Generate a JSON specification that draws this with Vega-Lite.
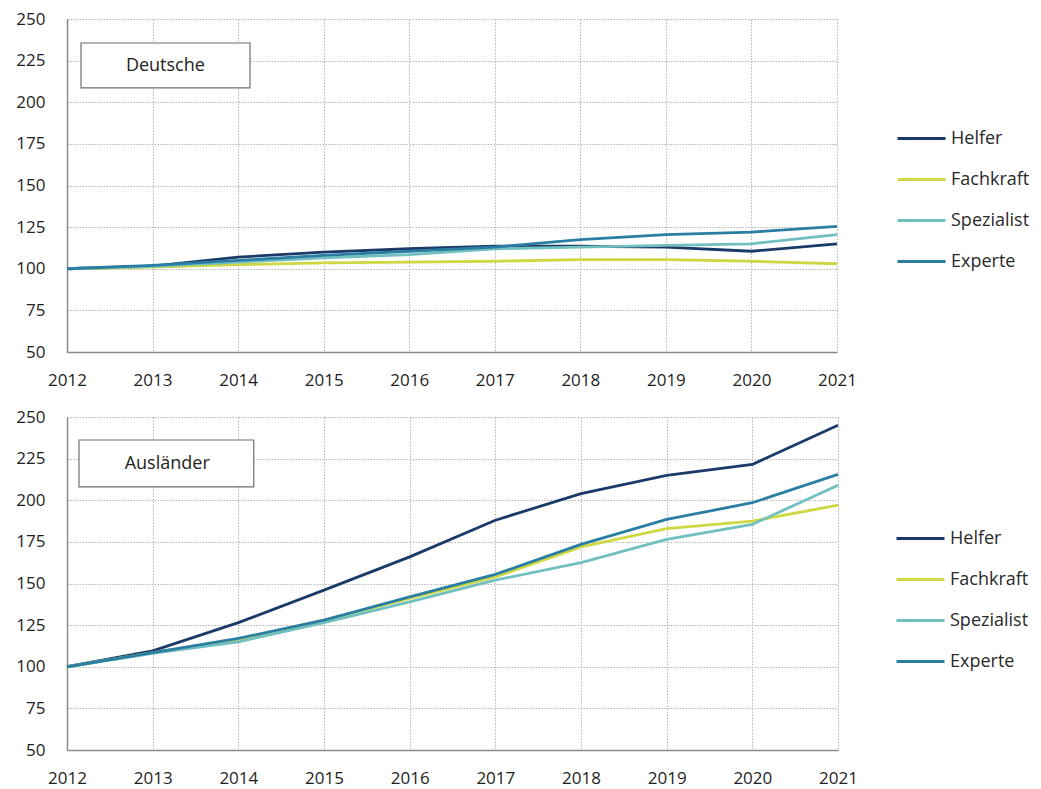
{
  "$schema": "https://vega.github.io/schema/vega-lite/v6.json",
  "background": "white",
  "padding": {"left": 15, "top": 10, "right": 5, "bottom": 5},
  "spacing": 20,
  "config": {
    "font": "Open Sans",
    "view": {"stroke": null},
    "axis": {
      "labelFont": "Open Sans",
      "labelFontSize": 17,
      "labelColor": "#1e1e1e",
      "labelFlush": false,
      "labelOverlap": false,
      "ticks": false,
      "title": null,
      "domainColor": "#8a8a8a",
      "domainWidth": 1.5,
      "gridColor": "#b5b5b5",
      "gridDash": [1.5, 1.5],
      "gridWidth": 1
    },
    "legend": {
      "labelFont": "Open Sans",
      "labelFontSize": 18,
      "labelColor": "#2a2a2a"
    }
  },
  "data": {
    "values": [
      {"group": "Deutsche", "type": "Helfer", "year": 2012, "value": 100},
      {"group": "Deutsche", "type": "Helfer", "year": 2013, "value": 101.5},
      {"group": "Deutsche", "type": "Helfer", "year": 2014, "value": 107},
      {"group": "Deutsche", "type": "Helfer", "year": 2015, "value": 110},
      {"group": "Deutsche", "type": "Helfer", "year": 2016, "value": 112},
      {"group": "Deutsche", "type": "Helfer", "year": 2017, "value": 113.5},
      {"group": "Deutsche", "type": "Helfer", "year": 2018, "value": 113.5},
      {"group": "Deutsche", "type": "Helfer", "year": 2019, "value": 113},
      {"group": "Deutsche", "type": "Helfer", "year": 2020, "value": 110.5},
      {"group": "Deutsche", "type": "Helfer", "year": 2021, "value": 115},
      {"group": "Deutsche", "type": "Fachkraft", "year": 2012, "value": 100},
      {"group": "Deutsche", "type": "Fachkraft", "year": 2013, "value": 101},
      {"group": "Deutsche", "type": "Fachkraft", "year": 2014, "value": 102.5},
      {"group": "Deutsche", "type": "Fachkraft", "year": 2015, "value": 103.5},
      {"group": "Deutsche", "type": "Fachkraft", "year": 2016, "value": 104},
      {"group": "Deutsche", "type": "Fachkraft", "year": 2017, "value": 104.5},
      {"group": "Deutsche", "type": "Fachkraft", "year": 2018, "value": 105.5},
      {"group": "Deutsche", "type": "Fachkraft", "year": 2019, "value": 105.5},
      {"group": "Deutsche", "type": "Fachkraft", "year": 2020, "value": 104.5},
      {"group": "Deutsche", "type": "Fachkraft", "year": 2021, "value": 103},
      {"group": "Deutsche", "type": "Spezialist", "year": 2012, "value": 100},
      {"group": "Deutsche", "type": "Spezialist", "year": 2013, "value": 101.5},
      {"group": "Deutsche", "type": "Spezialist", "year": 2014, "value": 104},
      {"group": "Deutsche", "type": "Spezialist", "year": 2015, "value": 106.5},
      {"group": "Deutsche", "type": "Spezialist", "year": 2016, "value": 108.5},
      {"group": "Deutsche", "type": "Spezialist", "year": 2017, "value": 112},
      {"group": "Deutsche", "type": "Spezialist", "year": 2018, "value": 113},
      {"group": "Deutsche", "type": "Spezialist", "year": 2019, "value": 114},
      {"group": "Deutsche", "type": "Spezialist", "year": 2020, "value": 115},
      {"group": "Deutsche", "type": "Spezialist", "year": 2021, "value": 120.5},
      {"group": "Deutsche", "type": "Experte", "year": 2012, "value": 100},
      {"group": "Deutsche", "type": "Experte", "year": 2013, "value": 102},
      {"group": "Deutsche", "type": "Experte", "year": 2014, "value": 105},
      {"group": "Deutsche", "type": "Experte", "year": 2015, "value": 108},
      {"group": "Deutsche", "type": "Experte", "year": 2016, "value": 110.5},
      {"group": "Deutsche", "type": "Experte", "year": 2017, "value": 113},
      {"group": "Deutsche", "type": "Experte", "year": 2018, "value": 117.5},
      {"group": "Deutsche", "type": "Experte", "year": 2019, "value": 120.5},
      {"group": "Deutsche", "type": "Experte", "year": 2020, "value": 122},
      {"group": "Deutsche", "type": "Experte", "year": 2021, "value": 125.5},
      {"group": "Ausländer", "type": "Helfer", "year": 2012, "value": 100},
      {"group": "Ausländer", "type": "Helfer", "year": 2013, "value": 109.5},
      {"group": "Ausländer", "type": "Helfer", "year": 2014, "value": 126.5},
      {"group": "Ausländer", "type": "Helfer", "year": 2015, "value": 146},
      {"group": "Ausländer", "type": "Helfer", "year": 2016, "value": 166},
      {"group": "Ausländer", "type": "Helfer", "year": 2017, "value": 188},
      {"group": "Ausländer", "type": "Helfer", "year": 2018, "value": 204},
      {"group": "Ausländer", "type": "Helfer", "year": 2019, "value": 215},
      {"group": "Ausländer", "type": "Helfer", "year": 2020, "value": 221.5},
      {"group": "Ausländer", "type": "Helfer", "year": 2021, "value": 245},
      {"group": "Ausländer", "type": "Fachkraft", "year": 2012, "value": 100},
      {"group": "Ausländer", "type": "Fachkraft", "year": 2013, "value": 108.5},
      {"group": "Ausländer", "type": "Fachkraft", "year": 2014, "value": 116.5},
      {"group": "Ausländer", "type": "Fachkraft", "year": 2015, "value": 128},
      {"group": "Ausländer", "type": "Fachkraft", "year": 2016, "value": 141},
      {"group": "Ausländer", "type": "Fachkraft", "year": 2017, "value": 154},
      {"group": "Ausländer", "type": "Fachkraft", "year": 2018, "value": 172},
      {"group": "Ausländer", "type": "Fachkraft", "year": 2019, "value": 183},
      {"group": "Ausländer", "type": "Fachkraft", "year": 2020, "value": 187.5},
      {"group": "Ausländer", "type": "Fachkraft", "year": 2021, "value": 197},
      {"group": "Ausländer", "type": "Spezialist", "year": 2012, "value": 100},
      {"group": "Ausländer", "type": "Spezialist", "year": 2013, "value": 108},
      {"group": "Ausländer", "type": "Spezialist", "year": 2014, "value": 115},
      {"group": "Ausländer", "type": "Spezialist", "year": 2015, "value": 126.5},
      {"group": "Ausländer", "type": "Spezialist", "year": 2016, "value": 139},
      {"group": "Ausländer", "type": "Spezialist", "year": 2017, "value": 152},
      {"group": "Ausländer", "type": "Spezialist", "year": 2018, "value": 162.5},
      {"group": "Ausländer", "type": "Spezialist", "year": 2019, "value": 176.5},
      {"group": "Ausländer", "type": "Spezialist", "year": 2020, "value": 185.5},
      {"group": "Ausländer", "type": "Spezialist", "year": 2021, "value": 209},
      {"group": "Ausländer", "type": "Experte", "year": 2012, "value": 100},
      {"group": "Ausländer", "type": "Experte", "year": 2013, "value": 108.5},
      {"group": "Ausländer", "type": "Experte", "year": 2014, "value": 117},
      {"group": "Ausländer", "type": "Experte", "year": 2015, "value": 128},
      {"group": "Ausländer", "type": "Experte", "year": 2016, "value": 142},
      {"group": "Ausländer", "type": "Experte", "year": 2017, "value": 155.5},
      {"group": "Ausländer", "type": "Experte", "year": 2018, "value": 173.5},
      {"group": "Ausländer", "type": "Experte", "year": 2019, "value": 188.5},
      {"group": "Ausländer", "type": "Experte", "year": 2020, "value": 198.5},
      {"group": "Ausländer", "type": "Experte", "year": 2021, "value": 215.5}
    ]
  },
  "vconcat": [
    {
      "width": 770,
      "height": 333,
      "layer": [
        {
          "transform": [{"filter": "datum.group === 'Deutsche'"}],
          "mark": {"type": "line", "strokeWidth": 2.8},
          "encoding": {
            "x": {"field": "year", "type": "quantitative", "scale": {"domain": [2012, 2021], "nice": false, "zero": false},
                  "axis": {"values": [2012, 2013, 2014, 2015, 2016, 2017, 2018, 2019, 2020, 2021], "format": "d", "labelPadding": 20}},
            "y": {"field": "value", "type": "quantitative", "scale": {"domain": [50, 250], "nice": false, "zero": false},
                  "axis": {"values": [50, 75, 100, 125, 150, 175, 200, 225, 250], "labelPadding": 22}},
            "color": {"field": "type", "type": "nominal",
                      "scale": {"domain": ["Helfer", "Fachkraft", "Spezialist", "Experte"], "range": ["#1b3a68", "#cdd843", "#72bfbf", "#2a7ea3"]},
                      "legend": {"title": null, "orient": "none", "legendX": 829, "legendY": 94, "symbolType": "stroke", "symbolSize": 2304, "symbolStrokeWidth": 3, "rowPadding": 6, "labelOffset": 4}},
            "order": {"field": "year", "type": "quantitative"}
          }
        },
        {
          "data": {"values": [{"label": "Deutsche"}]},
          "mark": {"type": "rect", "fill": "white", "stroke": "#6e6e6e", "strokeWidth": 1.2},
          "encoding": {
            "x": {"datum": 2012.164, "type": "quantitative"},
            "x2": {"datum": 2014.139},
            "y": {"datum": 235.6, "type": "quantitative"},
            "y2": {"datum": 208.6}
          }
        },
        {
          "data": {"values": [{"label": "Deutsche"}]},
          "mark": {"type": "text", "font": "Open Sans", "fontSize": 18, "color": "#222222", "align": "center", "baseline": "middle"},
          "encoding": {
            "x": {"datum": 2013.15, "type": "quantitative"},
            "y": {"datum": 222, "type": "quantitative"},
            "text": {"field": "label"}
          }
        }
      ]
    },
    {
      "width": 771,
      "height": 333,
      "layer": [
        {
          "transform": [{"filter": "datum.group === 'Ausländer'"}],
          "mark": {"type": "line", "strokeWidth": 2.8},
          "encoding": {
            "x": {"field": "year", "type": "quantitative", "scale": {"domain": [2012, 2021], "nice": false, "zero": false},
                  "axis": {"values": [2012, 2013, 2014, 2015, 2016, 2017, 2018, 2019, 2020, 2021], "format": "d", "labelPadding": 20}},
            "y": {"field": "value", "type": "quantitative", "scale": {"domain": [50, 250], "nice": false, "zero": false},
                  "axis": {"values": [50, 75, 100, 125, 150, 175, 200, 225, 250], "labelPadding": 22}},
            "color": {"field": "type", "type": "nominal",
                      "scale": {"domain": ["Helfer", "Fachkraft", "Spezialist", "Experte"], "range": ["#1b3a68", "#cdd843", "#72bfbf", "#2a7ea3"]},
                      "legend": {"title": null, "orient": "none", "legendX": 828, "legendY": 96, "symbolType": "stroke", "symbolSize": 2304, "symbolStrokeWidth": 3, "rowPadding": 6, "labelOffset": 4}},
            "order": {"field": "year", "type": "quantitative"}
          }
        },
        {
          "data": {"values": [{"label": "Ausländer"}]},
          "mark": {"type": "rect", "fill": "white", "stroke": "#6e6e6e", "strokeWidth": 1.2},
          "encoding": {
            "x": {"datum": 2012.14, "type": "quantitative"},
            "x2": {"datum": 2014.18},
            "y": {"datum": 236.2, "type": "quantitative"},
            "y2": {"datum": 208}
          }
        },
        {
          "data": {"values": [{"label": "Ausländer"}]},
          "mark": {"type": "text", "font": "Open Sans", "fontSize": 18, "color": "#222222", "align": "center", "baseline": "middle"},
          "encoding": {
            "x": {"datum": 2013.17, "type": "quantitative"},
            "y": {"datum": 222, "type": "quantitative"},
            "text": {"field": "label"}
          }
        }
      ]
    }
  ],
  "resolve": {"scale": {"color": "independent"}, "legend": {"color": "independent"}}
}
